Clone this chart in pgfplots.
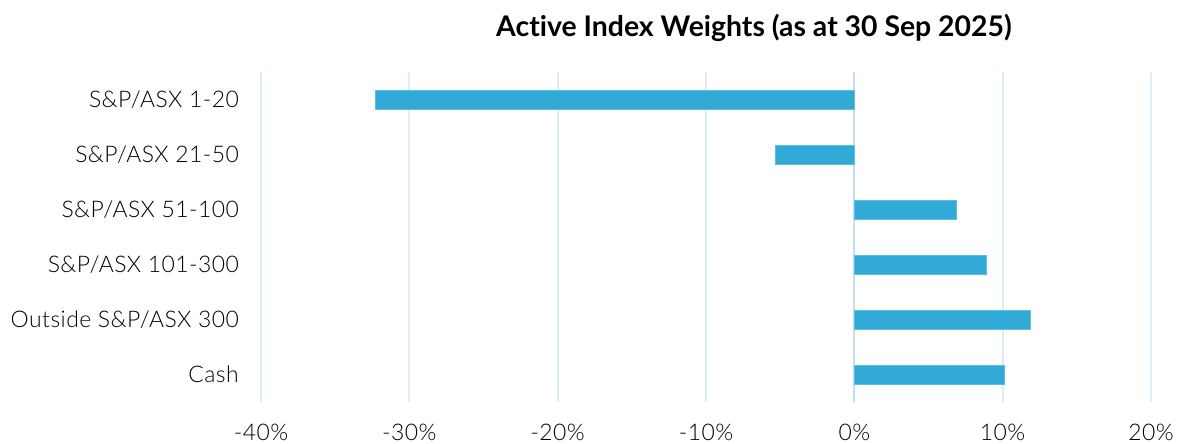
\documentclass[border=0pt]{standalone}
\usepackage{fontspec}
\setmainfont{Lato}[Ligatures=NoCommon]
\newfontfamily\lightfont{Lato Light}[LetterSpace=2]
\usepackage{pgfplots}
\pgfplotsset{compat=1.18}
\definecolor{barblue}{HTML}{31AAD7}
\definecolor{baredge}{HTML}{5BBDE3}
\definecolor{gridblue}{HTML}{DAEEFA}
\definecolor{zeroblue}{HTML}{C4DEF6}
\begin{document}
\begin{tikzpicture}
\path[use as bounding box] (-261bp,-42bp) rectangle (921bp,402bp);
\begin{axis}[
  at={(0,0)}, anchor=south west,
  scale only axis, width=890bp, height=330bp,
  xmin=-40, xmax=20, ymin=-0.5, ymax=5.5, y dir=reverse,
  axis line style={draw=none}, major tick length=0pt,
  xtick={-40,-30,-20,-10,0,10,20},
  xticklabels={-40\%,-30\%,-20\%,-10\%,0\%,10\%,20\%},
  xmajorgrids, grid style={gridblue, line width=2bp},
  ytick={0,1,2,3,4,5},
  yticklabels={S\&P/ASX 1-20,S\&P/ASX 21-50,S\&P/ASX 51-100,S\&P/ASX 101-300,Outside S\&P/ASX 300,Cash},
  tick label style={font=\lightfont\fontsize{23}{27}\selectfont, text=black},
  xticklabel style={anchor=base, yshift=-38bp, inner sep=0pt},
  yticklabel style={anchor=base east, inner sep=0pt, xshift=-22bp, yshift=-7.5bp},
  xbar, bar width=19bp,
]
\draw[zeroblue, line width=2bp] (axis cs:0,-0.5) -- (axis cs:0,5.5);
\addplot[fill=barblue, draw=baredge, line width=0.8bp] coordinates {(-32.3,0) (-5.3,1) (6.9,2) (8.9,3) (11.9,4) (10.15,5)};
\end{axis}
\node[anchor=base, font=\bfseries\fontsize{28.5}{33}\selectfont] at (493bp,365bp) {Active Index Weights (as at 30 Sep 2025)};
\end{tikzpicture}
\end{document}
